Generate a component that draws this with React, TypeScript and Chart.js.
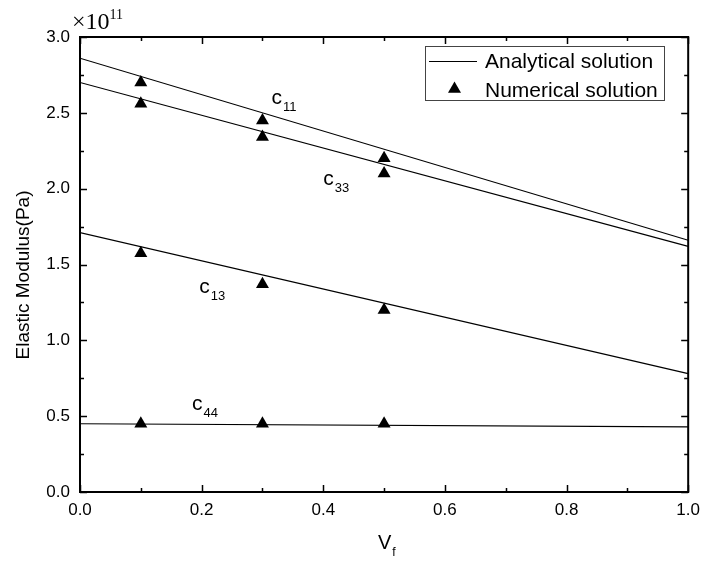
import React, { useEffect, useRef } from "react";
import { Chart, registerables } from "chart.js";

Chart.register(...registerables);

// ---- data ----
const vf = [0.1, 0.3, 0.5];
const c11Num = [2.7, 2.45, 2.2];
const c33Num = [2.56, 2.34, 2.1];
const c13Num = [1.575, 1.37, 1.2];
const c44Num = [0.45, 0.45, 0.45];

const lineX = [0, 1];
const c11Ana = [2.86, 1.66];
const c33Ana = [2.7, 1.62];
const c13Ana = [1.71, 0.78];
const c44Ana = [0.45, 0.43];

const xTicks = [0, 0.2, 0.4, 0.6, 0.8, 1.0];
const yTicks = [0, 0.5, 1.0, 1.5, 2.0, 2.5, 3.0];

// component labels: [main, subscript, x (data), baseline y (data)]
const compLabels: [string, string, number, number][] = [
  ["c", "11", 0.315, 2.558],
  ["c", "33", 0.4, 2.024],
  ["c", "13", 0.196, 1.312],
  ["c", "44", 0.184, 0.541],
];

const legendLine = "Analytical solution";
const legendPoint = "Numerical solution";
const yTitle = "Elastic Modulus(Pa)";
const xTitleMain = "V";
const xTitleSub = "f";
const expMain = "\u00d710";
const expSup = "11";

const SANS = "'Liberation Sans', Arial, sans-serif";
const SERIF = "'Liberation Serif', 'Times New Roman', serif";

const pts = (xs: number[], ys: number[]) => xs.map((x, i) => ({ x, y: ys[i] }));

const decor = {
  id: "decor",
  afterDraw(chart: any) {
    const ctx = chart.ctx as CanvasRenderingContext2D;
    const { left, right, top, bottom } = chart.chartArea;
    const xs = chart.scales.x;
    const ys = chart.scales.y;
    ctx.save();
    // frame
    ctx.strokeStyle = "#000";
    ctx.lineWidth = 2;
    ctx.strokeRect(left, top, right - left, bottom - top);
    // ticks (inward, all sides)
    ctx.lineWidth = 1.5;
    const major = 7;
    const minor = 4;
    ctx.beginPath();
    for (let i = 0; i <= 10; i++) {
      const v = i / 10;
      const px = Math.round(xs.getPixelForValue(v)) + 0.5;
      const len = i % 2 === 0 ? major : minor;
      ctx.moveTo(px, bottom);
      ctx.lineTo(px, bottom - len);
      ctx.moveTo(px, top);
      ctx.lineTo(px, top + len);
    }
    for (let i = 0; i <= 12; i++) {
      const v = i * 0.25;
      const py = Math.round(ys.getPixelForValue(v)) + 0.5;
      const len = i % 2 === 0 ? major : minor;
      ctx.moveTo(left, py);
      ctx.lineTo(left + len, py);
      ctx.moveTo(right, py);
      ctx.lineTo(right - len, py);
    }
    ctx.stroke();

    // component labels
    ctx.fillStyle = "#000";
    ctx.textBaseline = "alphabetic";
    ctx.textAlign = "left";
    for (const [m, s, x, y] of compLabels) {
      const px = xs.getPixelForValue(x);
      const py = ys.getPixelForValue(y);
      ctx.font = `21px ${SANS}`;
      ctx.fillText(m, px, py);
      const w = ctx.measureText(m).width;
      ctx.font = `13px ${SANS}`;
      ctx.fillText(s, px + w + 1, py + 7);
    }

    // legend
    const lx = 417, ly = 38, lw = 239, lh = 54;
    ctx.strokeStyle = "#444";
    ctx.lineWidth = 1;
    ctx.strokeRect(lx + 0.5, ly + 0.5, lw, lh);
    ctx.strokeStyle = "#000";
    ctx.lineWidth = 1.2;
    ctx.beginPath();
    ctx.moveTo(421, 53.5);
    ctx.lineTo(469, 53.5);
    ctx.stroke();
    ctx.beginPath();
    const tx = 446.5, ty = 81, r = 7.5;
    ctx.moveTo(tx, ty - r);
    ctx.lineTo(tx + r * Math.sin((2 * Math.PI) / 3), ty + r / 2);
    ctx.lineTo(tx - r * Math.sin((2 * Math.PI) / 3), ty + r / 2);
    ctx.closePath();
    ctx.fill();
    ctx.font = `21px ${SANS}`;
    ctx.fillText(legendLine, 477, 60);
    ctx.fillText(legendPoint, 477, 89);

    // exponent label
    ctx.font = `24px ${SERIF}`;
    ctx.fillText(expMain, 64, 21);
    const ew = ctx.measureText(expMain).width;
    ctx.font = `14px ${SERIF}`;
    ctx.fillText(expSup, 64 + ew, 11);

    // x title
    ctx.font = `20px ${SANS}`;
    ctx.textAlign = "left";
    ctx.fillText(xTitleMain, 370, 541);
    const vw = ctx.measureText(xTitleMain).width;
    ctx.font = `12px ${SANS}`;
    ctx.fillText(xTitleSub, 370 + vw + 1, 548);

    // y title
    ctx.translate(16, 267);
    ctx.rotate(-Math.PI / 2);
    ctx.font = `19px ${SANS}`;
    ctx.textAlign = "center";
    ctx.textBaseline = "middle";
    ctx.fillText(yTitle, 0, 0);
    ctx.restore();
  },
};

export default function App() {
  const ref = useRef<HTMLCanvasElement>(null);
  useEffect(() => {
    if (!ref.current) return;
    const lineDs = (data: number[]) => ({
      type: "line" as const,
      label: legendLine,
      data: pts(lineX, data),
      borderColor: "#000",
      borderWidth: 1.2,
      pointRadius: 0,
      showLine: true,
      fill: false,
    });
    const ptDs = (data: number[]) => ({
      type: "scatter" as const,
      label: legendPoint,
      data: pts(vf, data),
      pointStyle: "triangle",
      pointRadius: 7.5,
      backgroundColor: "#000",
      borderColor: "#000",
      borderWidth: 0,
      showLine: false,
    });
    const chart = new Chart(ref.current, {
      type: "scatter",
      data: {
        datasets: [
          lineDs(c11Ana),
          lineDs(c33Ana),
          lineDs(c13Ana),
          lineDs(c44Ana),
          ptDs(c11Num),
          ptDs(c33Num),
          ptDs(c13Num),
          ptDs(c44Num),
        ] as any,
      },
      options: {
        animation: false,
        responsive: false,
        layout: { padding: { top: 29, right: 16, left: 0, bottom: 0 } },
        plugins: { legend: { display: false }, tooltip: { enabled: false } },
        scales: {
          x: {
            type: "linear",
            min: 0,
            max: 1,
            afterFit: (s: any) => {
              s.height = 73;
            },
            afterBuildTicks: (s: any) => {
              s.ticks = xTicks.map((v) => ({ value: v }));
            },
            grid: { display: false, drawTicks: false },
            border: { display: false },
            ticks: {
              padding: 8,
              color: "#000",
              font: { family: SANS, size: 17 },
              maxRotation: 0,
              callback: (v: any) => Number(v).toFixed(1),
            },
          },
          y: {
            type: "linear",
            min: 0,
            max: 3,
            afterFit: (s: any) => {
              s.width = 72;
            },
            afterBuildTicks: (s: any) => {
              s.ticks = yTicks.map((v) => ({ value: v }));
            },
            grid: { display: false, drawTicks: false },
            border: { display: false },
            ticks: {
              padding: 10,
              color: "#000",
              font: { family: SANS, size: 17 },
              callback: (v: any) => Number(v).toFixed(1),
            },
          },
        },
      },
      plugins: [decor],
    });
    return () => chart.destroy();
  }, []);
  return <canvas ref={ref} width={700} height={557} style={{ display: "block" }} />;
}
